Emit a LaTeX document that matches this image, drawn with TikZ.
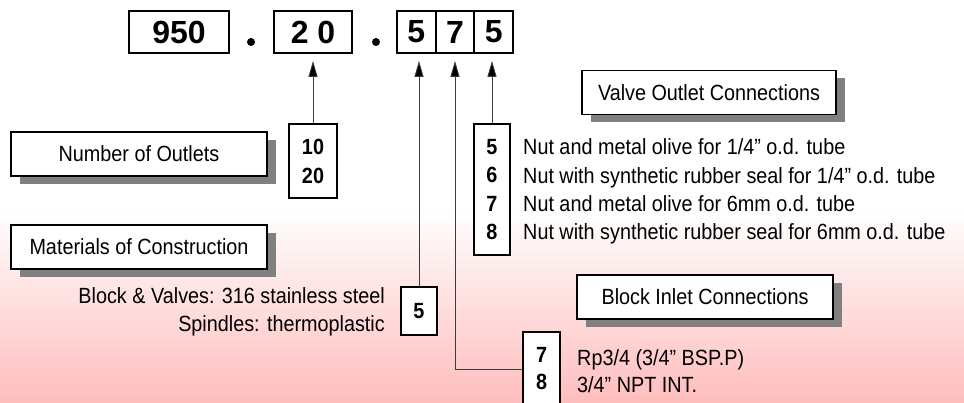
\documentclass[tikz,border=0pt]{standalone}
\usepackage{fontspec}
\setmainfont{Liberation Sans}
\newfontfamily\condfont[FakeStretch=0.9]{Liberation Sans}
\usetikzlibrary{arrows.meta,shadows,calc}
\definecolor{pinkbg}{RGB}{255,189,189}
\definecolor{shadowgray}{RGB}{128,128,128}
\definecolor{linegray}{RGB}{60,60,60}
\begin{document}
\begin{tikzpicture}[x=1pt,y=-1pt,
  lblbox/.style={draw, line width=1.4pt, fill=white, minimum width=256pt, minimum height=44pt, inner sep=0pt,
    font=\condfont\fontsize{22}{26}\selectfont,
    drop shadow={shadow xshift=9pt, shadow yshift=-8pt, fill=shadowgray, opacity=1}},
  topbox/.style={draw, line width=1.8pt, fill=white, minimum height=42pt, inner sep=0pt,
    font=\fontsize{32}{34}\selectfont\bfseries},
  numbox/.style={draw, line width=1.8pt, fill=white, inner sep=0pt, align=center},
  txt/.style={inner sep=0pt, text height=15.5pt, text depth=0pt, font=\condfont\fontsize{22}{26}\selectfont},
  conn/.style={draw=linegray, line width=0.9pt},
  arr/.style={conn, -{Triangle[length=16pt,width=9pt,fill=black]}, shorten >=7pt},
  dot/.style={circle, fill=black, inner sep=0pt, minimum size=8pt}
]
\useasboundingbox (0,0) rectangle (964,403);
\fill[white] (0,0) rectangle (964,403);
\shade[top color=white, bottom color=pinkbg] (0,210) rectangle (964,403);

% top code boxes
\node[topbox, minimum width=100pt] (c950) at (179,32) {950};
\node[dot] (d1) at (251,42) {};
\node[topbox, minimum width=78pt] (c20) at (313,32) {2 0};
\node[dot] (d2) at (376,42) {};
\node[topbox, minimum width=38.7pt] (c1) at (416.3,32) {5};
\node[topbox, minimum width=38.7pt] (c2) at (455,32) {7};
\node[topbox, minimum width=38.7pt] (c3) at (493.7,32) {5};

% label boxes
\node[lblbox] (lout) at (139,154) {Number of Outlets};
\node[lblbox] (lmat) at (139,247) {Materials of Construction};
\node[lblbox, minimum width=254pt] (lvalve) at (709,92.5) {Valve Outlet Connections};
\node[lblbox] (linlet) at (705,297) {Block Inlet Connections};

% number boxes
\node[numbox, minimum width=48pt, minimum height=74pt, font=\condfont\fontsize{22}{29}\selectfont\bfseries] (b1020) at (313,161) {10\\20};
\node[numbox, minimum width=36pt, minimum height=131pt, font=\condfont\fontsize{22}{28.3}\selectfont\bfseries] (b5678) at (492,189.5) {5\\6\\7\\8};
\node[numbox, minimum width=36pt, minimum height=48pt, font=\condfont\fontsize{22}{24}\selectfont\bfseries] (b5) at (419,311) {5};
\node[numbox, minimum width=37pt, minimum height=74pt, font=\condfont\fontsize{22}{27}\selectfont\bfseries] (b78) at (541.5,369) {7\\8};

% connectors
\draw[arr] (b1020.north) -- (b1020.north |- c20.south);
\draw[arr] (b5678.north) -- (b5678.north |- c3.south);
\draw[arr] (b5.north) -- (b5.north |- c1.south);
\draw[arr] (b78.west) -| (c2.south);

% valve outlet texts
\node[txt, anchor=west] (v5) at (523,147) {Nut and metal olive for 1/4” o.d. tube};
\node[txt, anchor=west] (v6) at (523,175.5) {Nut with synthetic rubber seal for 1/4” o.d. tube};
\node[txt, anchor=west] (v7) at (523,203.5) {Nut and metal olive for 6mm o.d. tube};
\node[txt, anchor=west] (v8) at (523,232) {Nut with synthetic rubber seal for 6mm o.d. tube};

% materials texts
\node[txt, anchor=east] (m1) at (385,296) {Block \& Valves: 316 stainless steel};
\node[txt, anchor=east] (m2) at (385,324) {Spindles: thermoplastic};

% inlet texts
\node[txt, anchor=west] (i7) at (577,358) {Rp3/4 (3/4” BSP.P)};
\node[txt, anchor=west] (i8) at (577,385) {3/4” NPT INT.};
\end{tikzpicture}
\end{document}
